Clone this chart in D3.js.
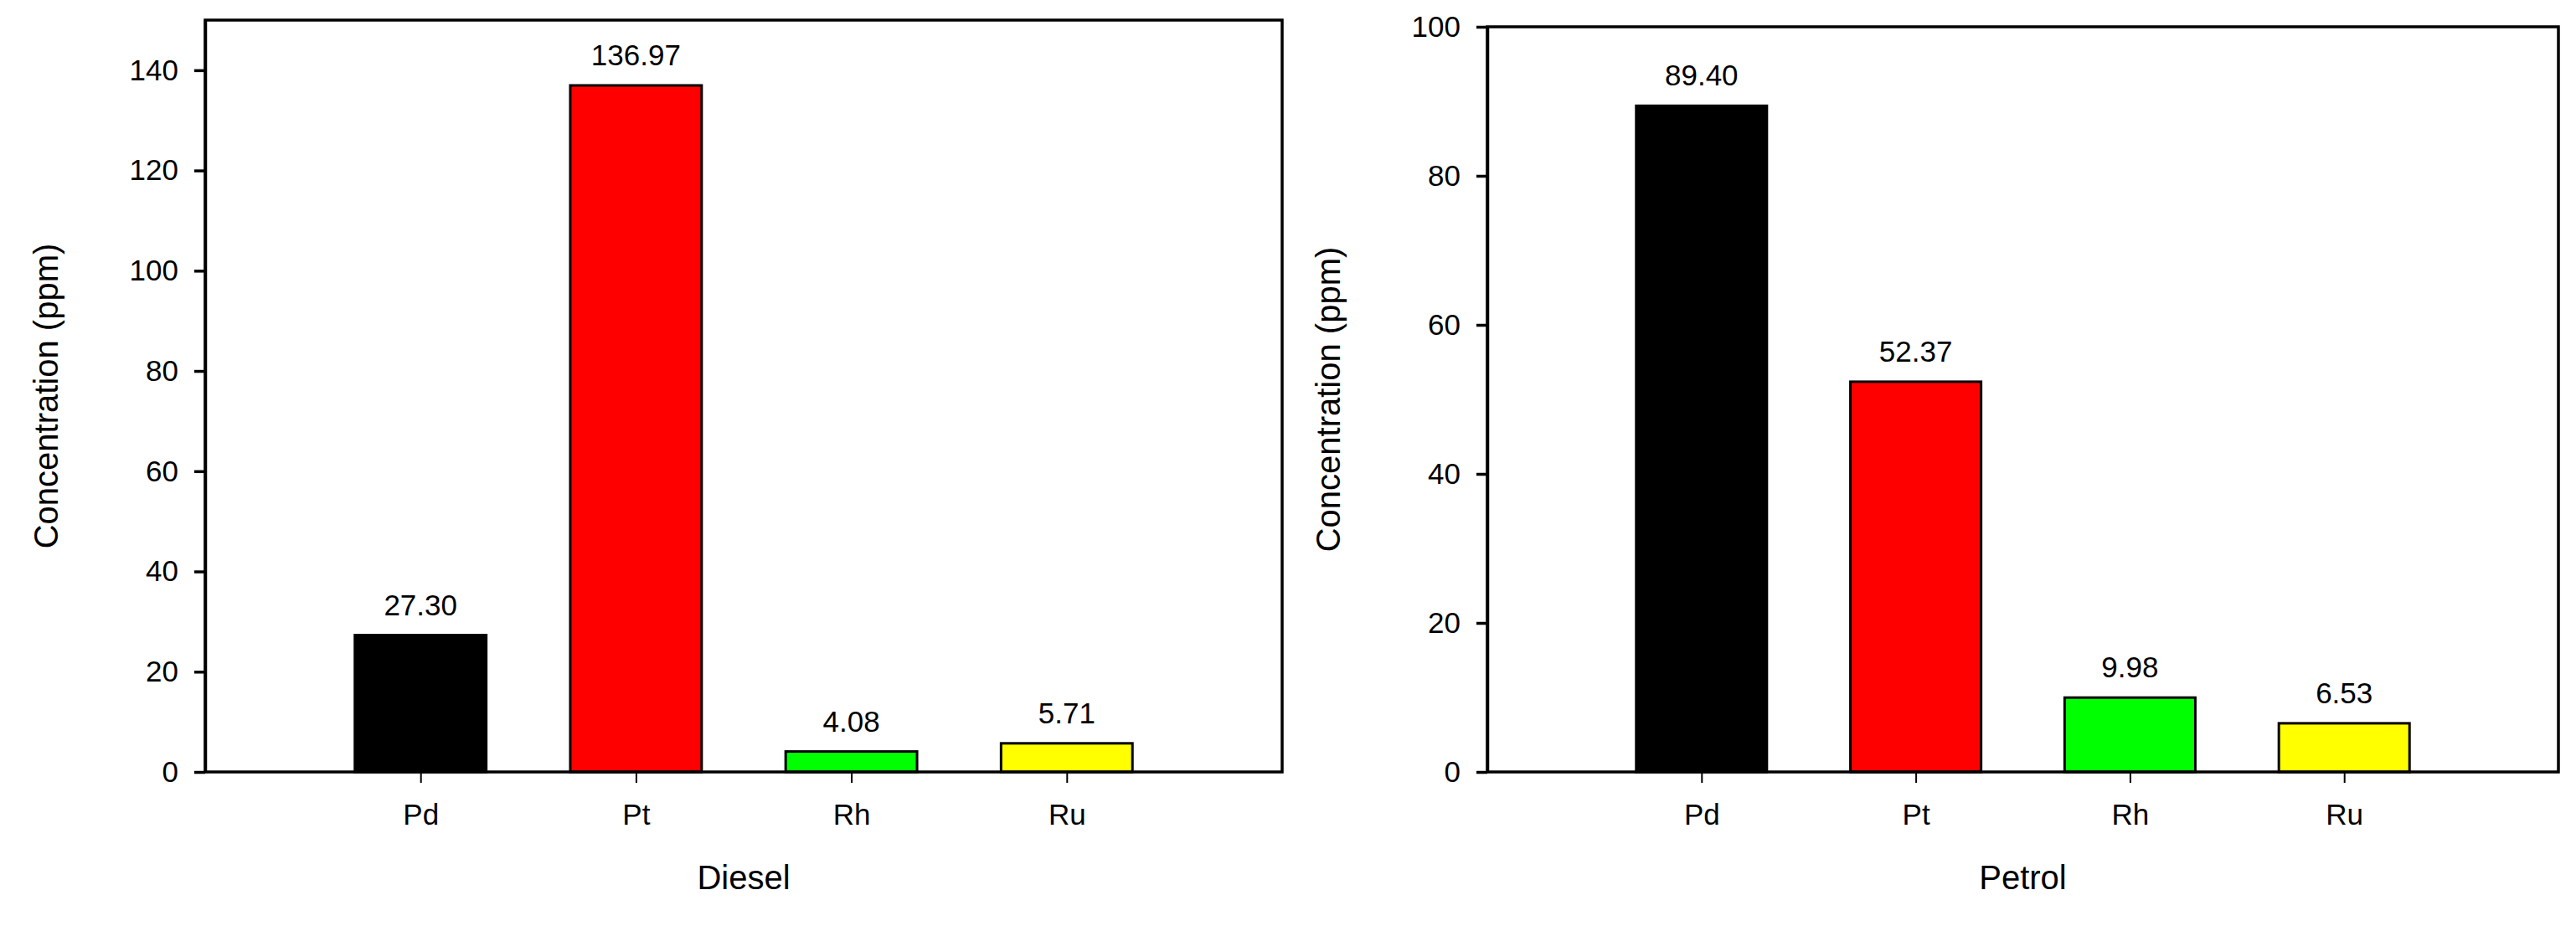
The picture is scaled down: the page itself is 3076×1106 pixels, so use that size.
<!DOCTYPE html>
<html>
<head>
<meta charset="utf-8">
<script src="https://cdn.jsdelivr.net/npm/d3@7"></script>
<style>
  body { margin: 0; background: #fff; }
  text { font-family: "Liberation Sans", Arial, sans-serif; fill: #000; }
</style>
</head>
<body>
<div id="chart"></div>
<script>
// data
const categories = ["Pd", "Pt", "Rh", "Ru"];
const dieselValues = [27.30, 136.97, 4.08, 5.71];
const petrolValues = [89.40, 52.37, 9.98, 6.53];
const barColors = ["#000000", "#ff0000", "#00ff00", "#ffff00"];
const dieselTicks = [0, 20, 40, 60, 80, 100, 120, 140];
const petrolTicks = [0, 20, 40, 60, 80, 100];

const width = 3076;
const height = 1106;

let svg = d3.select("#chart")
    .append("svg")
    .attr("width", width)
    .attr("height", height);

let panels = [
    { title: "Diesel", values: dieselValues, ticks: dieselTicks, yMax: 150,
      left: 245, right: 1531, top: 24, bottom: 922, labelX: 55 },
    { title: "Petrol", values: petrolValues, ticks: petrolTicks, yMax: 100,
      left: 1776, right: 3055, top: 32, bottom: 922, labelX: 1586 }
];

panels.forEach(function(p) {
    let x = d3.scaleLinear().domain([0, 5]).range([p.left, p.right]);
    let y = d3.scaleLinear().domain([0, p.yMax]).range([p.bottom, p.top]);
    let barW = x(0.61) - x(0);

    let g = svg.append("g");

    // bars
    g.selectAll("rect.bar")
        .data(p.values)
        .enter()
        .append("rect")
        .attr("class", "bar")
        .attr("x", (d, i) => x(i + 1) - barW / 2)
        .attr("y", d => y(d))
        .attr("width", barW)
        .attr("height", d => y(0) - y(d))
        .attr("fill", (d, i) => barColors[i])
        .attr("stroke", "#000")
        .attr("stroke-width", 3);

    // value labels
    g.selectAll("text.val")
        .data(p.values)
        .enter()
        .append("text")
        .attr("class", "val")
        .attr("x", (d, i) => x(i + 1))
        .attr("y", d => y(d) - 24)
        .attr("text-anchor", "middle")
        .style("font-size", "35px")
        .text(d => d.toFixed(2));

    // frame
    g.append("rect")
        .attr("x", p.left)
        .attr("y", p.top)
        .attr("width", p.right - p.left)
        .attr("height", p.bottom - p.top)
        .attr("fill", "none")
        .attr("stroke", "#000")
        .attr("stroke-width", 3.5);

    // y axis
    let ya = g.append("g")
        .attr("transform", "translate(" + p.left + ",0)")
        .call(d3.axisLeft(y).tickValues(p.ticks).tickSize(13).tickSizeOuter(0).tickPadding(19));
    ya.select(".domain").attr("stroke-width", 3.5);
    ya.selectAll(".tick line").attr("stroke-width", 3.5);
    ya.selectAll(".tick text").style("font-size", "35px").attr("fill", "#000");

    // x axis
    let xa = g.append("g")
        .attr("transform", "translate(0," + p.bottom + ")")
        .call(d3.axisBottom(x).tickValues([1, 2, 3, 4])
            .tickFormat(d => categories[d - 1])
            .tickSize(13).tickSizeOuter(0).tickPadding(25));
    xa.select(".domain").remove();
    xa.selectAll(".tick line").attr("stroke-width", 2);
    xa.selectAll(".tick text").style("font-size", "35px").attr("fill", "#000");

    // axis titles
    g.append("text")
        .attr("x", (p.left + p.right) / 2)
        .attr("y", 1062)
        .attr("text-anchor", "middle")
        .style("font-size", "40px")
        .text(p.title);

    g.append("text")
        .attr("transform", "translate(" + p.labelX + "," + ((p.top + p.bottom) / 2) + ") rotate(-90)")
        .attr("text-anchor", "middle")
        .attr("dominant-baseline", "central")
        .style("font-size", "40px")
        .text("Concentration (ppm)");
});
</script>
</body>
</html>
